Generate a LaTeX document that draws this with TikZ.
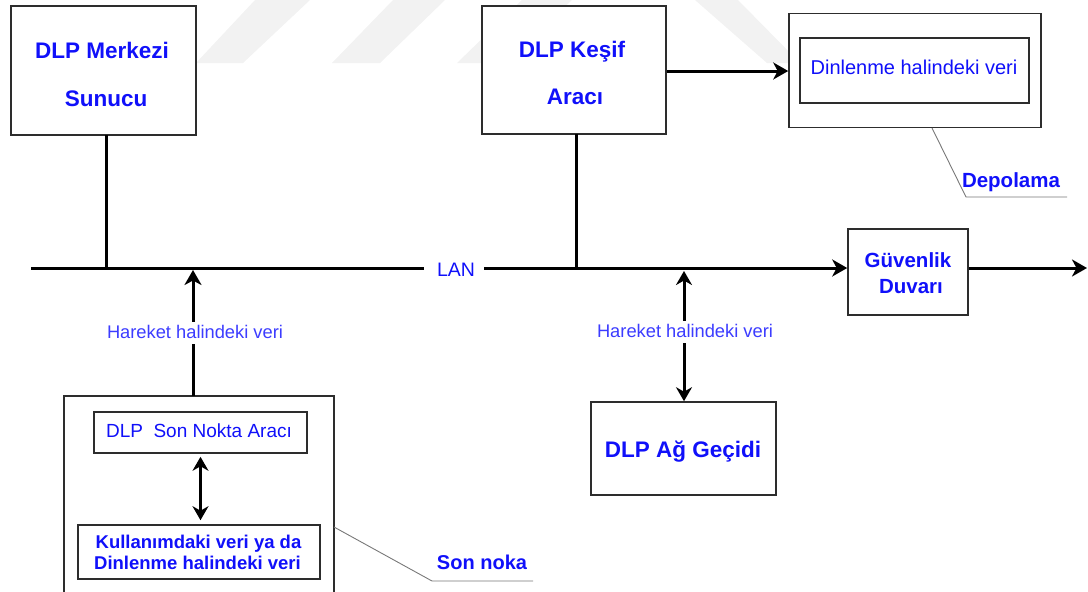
\documentclass[tikz,border=0pt]{standalone}
\usepackage{fontspec}
\setmainfont{Liberation Sans}
\usetikzlibrary{arrows.meta}
\definecolor{txtblue}{RGB}{16,16,250}
\definecolor{lblblue}{RGB}{60,60,255}
\definecolor{boxline}{RGB}{45,45,45}
\definecolor{wmark}{RGB}{242,242,242}
\definecolor{callgray}{RGB}{120,120,120}
\begin{document}
\begin{tikzpicture}[x=1pt,y=-1pt,
  box/.style={draw=boxline, fill=white, line width=1.6pt, inner sep=0pt},
  conn/.style={line width=3pt, black},
  tipend/.style={-{Stealth[length=15pt,width=17pt,inset=4.5pt]}},
  tipboth/.style={{Stealth[length=14pt,width=16pt,inset=4.5pt]}-{Stealth[length=14pt,width=16pt,inset=4.5pt]}},
  callout/.style={draw=callgray, line width=0.9pt},
  bigtxt/.style={anchor=base, inner sep=0pt, text=txtblue, font=\fontsize{22.5}{26}\selectfont\bfseries},
  midtxt/.style={anchor=base, inner sep=0pt, text=txtblue, font=\fontsize{20.5}{24}\selectfont\bfseries},
  regtxt/.style={anchor=base, inner sep=0pt, text=txtblue, font=\fontsize{20}{23}\selectfont},
  lbltxt/.style={anchor=base, inner sep=0pt, text=lblblue, font=\fontsize{18.3}{21}\selectfont},
  lblbg/.style={fill=white, minimum width=186pt, minimum height=22pt, inner sep=0pt}
]
\useasboundingbox (0,0) rectangle (1088,592);
\clip (0,0) rectangle (1088,592);

% watermark
\fill[wmark] (255,0) -- (310,0) -- (243,63) -- (196,63) -- cycle;
\fill[wmark] (393,0) -- (445,0) -- (380,63) -- (332,63) -- cycle;
\fill[wmark] (522,0) -- (572,0) -- (505,63) -- (457,63) -- cycle;
\fill[wmark] (695,0) -- (738,0) -- (800,63) -- (767,63) -- cycle;

% boxes
\node[box, minimum width=185pt, minimum height=129pt] (merk) at (103.5,70.5) {};
\node[box, minimum width=184pt, minimum height=128pt] (kesif) at (574,70) {};
\node[box, minimum width=252pt, minimum height=114pt] (depo) at (915,70.5) {};
\node[box, minimum width=229pt, minimum height=65pt] (depoin) at (914.5,70.5) {};
\node[box, minimum width=120pt, minimum height=86pt] (guv) at (908,272) {};
\node[box, minimum width=185pt, minimum height=93pt] (gw) at (683.5,448.5) {};
\node[box, minimum width=270pt, minimum height=210pt] (son) at (199,501) {};
\node[box, minimum width=213pt, minimum height=41pt] (sonarac) at (200.5,432.5) {};
\node[box, minimum width=242pt, minimum height=54pt] (kull) at (199,552) {};

% texts
\node[bigtxt] (merkA) at (102,58) {DLP Merkezi};
\node[bigtxt] (merkB) at (106,106) {Sunucu};
\node[bigtxt] (kesifA) at (572,57) {DLP Keşif};
\node[bigtxt] (kesifB) at (575,104) {Aracı};
\node[regtxt] (depoT) at (914,74) {Dinlenme halindeki veri};
\node[midtxt] (depoL) at (1011,187) {Depolama};
\node[midtxt] (guvA) at (908,267) {Güvenlik};
\node[midtxt] (guvB) at (911,293) {Duvarı};
\node[bigtxt] (gwT) at (683,457) {DLP Ağ Geçidi};
\node[regtxt, font=\fontsize{19}{23}\selectfont] (sonaracT) at (199,437) {DLP\ \ Son Nokta Aracı};
\node[midtxt, font=\fontsize{18.5}{22}\selectfont\bfseries] (kullA) at (198.5,548) {Kullanımdaki veri ya da};
\node[midtxt, font=\fontsize{18.5}{22}\selectfont\bfseries] (kullB) at (197.5,569) {Dinlenme halindeki veri};
\node[midtxt, font=\fontsize{20}{24}\selectfont\bfseries] (sonL) at (482,569) {Son noka};

% LAN
\coordinate (lanL) at (31,268);
\node[minimum width=60pt, minimum height=6pt, inner sep=0pt] (lan) at (454,268) {};
\node[regtxt, font=\fontsize{19.5}{23}\selectfont] (lanT) at (456,276) {LAN};
\draw[conn] (lanL) -- (lan.west);
\draw[conn, tipend] (lan.east) -- (guv.west |- lanL);
\coordinate (out) at (1087,268);
\draw[conn, tipend] (guv.east |- lanL) -- (out);

% drops to LAN
\coordinate (merkdrop) at (106,135);
\draw[conn] (merkdrop) -- (merkdrop |- lanL);
\coordinate (kesifdrop) at (576,134);
\draw[conn] (kesifdrop) -- (kesifdrop |- lanL);

% Kesif -> Depolama
\draw[conn, tipend] (kesif.east |- 0,71) -- (depo.west |- 0,71);

% right moving data
\coordinate (gwtop) at (684,271);
\draw[conn, tipboth] (gwtop) -- (gwtop |- gw.north);
\node[lblbg] (hk2bg) at (685,332) {};
\node[lbltxt] (hk2) at (685,337) {Hareket halindeki veri};

% left moving data
\coordinate (sontop) at (193,396);
\draw[conn, tipend] (sontop) -- (193,270);
\node[lblbg] (hk1bg) at (195,333) {};
\node[lbltxt] (hk1) at (195,338) {Hareket halindeki veri};

% inside endpoint
\draw[conn, tipboth, shorten <=3pt, shorten >=4pt] (sonarac.south) -- (sonarac.south |- kull.north);

% callouts
\draw[callout] (932,128) -- (966,197) -- (1067,197);
\draw[callout] (334,527) -- (432,581) -- (533,581);
\end{tikzpicture}
\end{document}
